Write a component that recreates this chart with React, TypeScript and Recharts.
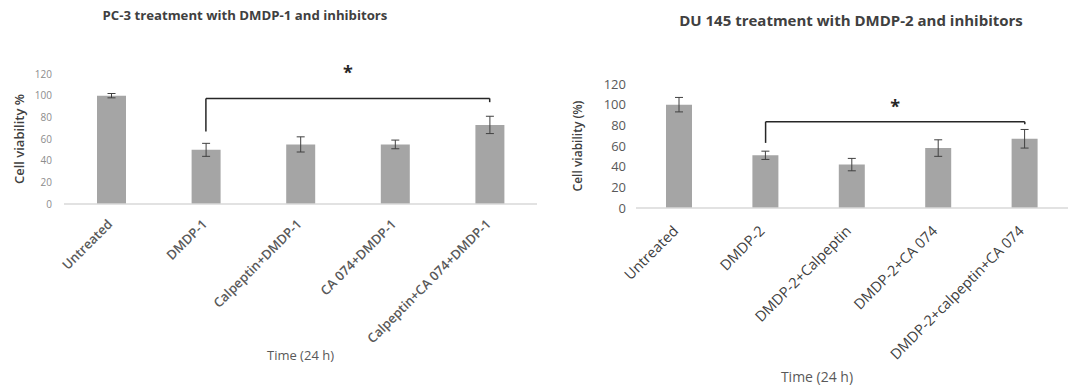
import { Bar, BarChart, ErrorBar, Label, ReferenceLine, XAxis, YAxis } from "recharts"

// PC-3 panel
const pcCategories = ["Untreated", "DMDP-1", "Calpeptin+DMDP-1", "CA 074+DMDP-1", "Calpeptin+CA 074+DMDP-1"]
const pcViability = [100, 50, 55, 55, 73]
const pcError = [2, 6, 7, 4, 8]
const pcBracket = { from: "DMDP-1", to: "Calpeptin+CA 074+DMDP-1", top: 97.5, fromEnd: 67, toEnd: 94 }
const pcStar = { from: "Calpeptin+DMDP-1", to: "CA 074+DMDP-1", y: 124 }

// DU 145 panel
const duCategories = ["Untreated", "DMDP-2", "DMDP-2+Calpeptin", "DMDP-2+CA 074", "DMDP-2+calpeptin+CA 074"]
const duViability = [100, 51, 42, 58, 67]
const duError = [7, 4, 6, 8, 9]
const duBracket = { from: "DMDP-2", to: "DMDP-2+calpeptin+CA 074", top: 83.5, fromEnd: 63, toEnd: 81 }
const duStar = { from: "DMDP-2+Calpeptin", to: "DMDP-2+CA 074", y: 101 }

const yTicks = [0, 20, 40, 60, 80, 100, 120]

const FONT = "'Open Sans', sans-serif"

interface IPanel {
    title: string
    yLabel: string
    categories: string[]
    values: number[]
    errors: number[]
    bracket: { from: string; to: string; top: number; fromEnd: number; toEnd: number }
    star: { from: string; to: string; y: number }
    left: number
    width: number
    titleX: number
    titleY: number
    titleSize: number
    margin: { top: number; right: number; left: number; bottom: number }
    yWidth: number
    xHeight: number
    barSize: number
    tickSize: number
    tickColor: string
    tickMargin: number
    catSize: number
    catWeight: number
    catColor: string
    catDx: number
    catDy: number
    yLabelSize: number
    yLabelDx: number
    timeSize: number
    timeOffset: number
    timeDx: number
}

const CategoryTick = ({ x, y, payload, size, weight, color, dx, dy }: any) => (
    <text
        x={x + dx}
        y={y + dy}
        transform={`rotate(-45, ${x + dx}, ${y + dy})`}
        textAnchor="end"
        fontSize={size}
        fontWeight={weight}
        fill={color}
        fontFamily={FONT}
    >
        {payload.value}
    </text>
)

const Panel = (p: IPanel) => {
    const data = p.categories.map((name, i) => ({ name, value: p.values[i], err: p.errors[i] }))
    return (
        <div style={{ position: "absolute", left: p.left, top: 0, width: p.width, height: 389 }}>
            <div
                style={{
                    position: "absolute",
                    left: p.titleX - p.left - 250,
                    width: 500,
                    top: p.titleY - p.titleSize * 0.7,
                    textAlign: "center",
                    fontFamily: FONT,
                    fontWeight: 700,
                    fontSize: p.titleSize,
                    color: "#404040",
                    whiteSpace: "nowrap",
                    lineHeight: 1.4,
                }}
            >
                {p.title}
            </div>
            <BarChart width={p.width} height={389} data={data} margin={p.margin}>
                <XAxis
                    dataKey="name"
                    height={p.xHeight}
                    interval={0}
                    tickLine={false}
                    axisLine={{ stroke: "#d9d9d9", strokeWidth: 1.5 }}
                    tick={<CategoryTick size={p.catSize} weight={p.catWeight} color={p.catColor} dx={p.catDx} dy={p.catDy} />}
                >
                    <Label
                        value="Time (24 h)"
                        position="insideBottom"
                        offset={p.timeOffset}
                        dx={p.timeDx}
                        style={{ fontFamily: FONT, fontSize: p.timeSize, fill: "#595959" }}
                    />
                </XAxis>
                <YAxis
                    width={p.yWidth}
                    domain={[0, 120]}
                    ticks={yTicks}
                    interval={0}
                    axisLine={false}
                    tickLine={false}
                    tickMargin={p.tickMargin}
                    tick={{ fontSize: p.tickSize, fill: p.tickColor, fontFamily: FONT }}
                >
                    <Label
                        value={p.yLabel}
                        angle={-90}
                        position="center"
                        dx={p.yLabelDx}
                        style={{ fontFamily: FONT, fontSize: p.yLabelSize, fontWeight: 600, fill: "#404040", textAnchor: "middle" }}
                    />
                </YAxis>
                <Bar dataKey="value" fill="#a5a5a5" barSize={p.barSize} isAnimationActive={false}>
                    <ErrorBar dataKey="err" width={4} stroke="#404040" strokeWidth={1} />
                </Bar>
                <ReferenceLine
                    segment={[
                        { x: p.bracket.from, y: p.bracket.fromEnd },
                        { x: p.bracket.from, y: p.bracket.top },
                    ]}
                    stroke="#262626"
                    strokeWidth={1.5}
                    ifOverflow="visible"
                />
                <ReferenceLine
                    segment={[
                        { x: p.bracket.from, y: p.bracket.top },
                        { x: p.bracket.to, y: p.bracket.top },
                    ]}
                    stroke="#262626"
                    strokeWidth={1.5}
                    ifOverflow="visible"
                />
                <ReferenceLine
                    segment={[
                        { x: p.bracket.to, y: p.bracket.top },
                        { x: p.bracket.to, y: p.bracket.toEnd },
                    ]}
                    stroke="#262626"
                    strokeWidth={1.5}
                    ifOverflow="visible"
                />
                <ReferenceLine
                    segment={[
                        { x: p.star.from, y: p.star.y },
                        { x: p.star.to, y: p.star.y },
                    ]}
                    stroke="none"
                    ifOverflow="visible"
                >
                    <Label
                        value="*"
                        position="center"
                        dy={3}
                        style={{ fontFamily: FONT, fontSize: 18, fontWeight: 700, fill: "#262626" }}
                    />
                </ReferenceLine>
            </BarChart>
        </div>
    )
}

export default function App() {
    return (
        <div style={{ position: "absolute", left: 0, top: 0, width: 1072, height: 389, background: "#fff", overflow: "hidden" }}>
            <Panel
                title="PC-3 treatment with DMDP-1 and inhibitors"
                yLabel="Cell viability %"
                categories={pcCategories}
                values={pcViability}
                errors={pcError}
                bracket={pcBracket}
                star={pcStar}
                left={0}
                width={545}
                titleX={245}
                titleY={15}
                titleSize={13.2}
                margin={{ top: 74, right: 8, left: 0, bottom: 25 }}
                yWidth={64}
                xHeight={160}
                barSize={29}
                tickSize={10}
                tickColor="#8c8c8c"
                tickMargin={6}
                catSize={13}
                catWeight={600}
                catColor="#595959"
                catDx={2}
                catDy={13}
                yLabelSize={13}
                yLabelDx={-13}
                timeSize={13}
                timeOffset={4}
                timeDx={0}
            />
            <Panel
                title="DU 145 treatment with DMDP-2 and inhibitors"
                yLabel="Cell viability (%)"
                categories={duCategories}
                values={duViability}
                errors={duError}
                bracket={duBracket}
                star={duStar}
                left={560}
                width={512}
                titleX={851}
                titleY={20}
                titleSize={15}
                margin={{ top: 84, right: 4, left: 0, bottom: 5 }}
                yWidth={76}
                xHeight={176}
                barSize={26}
                tickSize={13}
                tickColor="#595959"
                tickMargin={4}
                catSize={14.5}
                catWeight={500}
                catColor="#404040"
                catDx={0}
                catDy={16}
                yLabelSize={12}
                yLabelDx={-20}
                timeSize={14}
                timeOffset={2}
                timeDx={-35}
            />
        </div>
    )
}
